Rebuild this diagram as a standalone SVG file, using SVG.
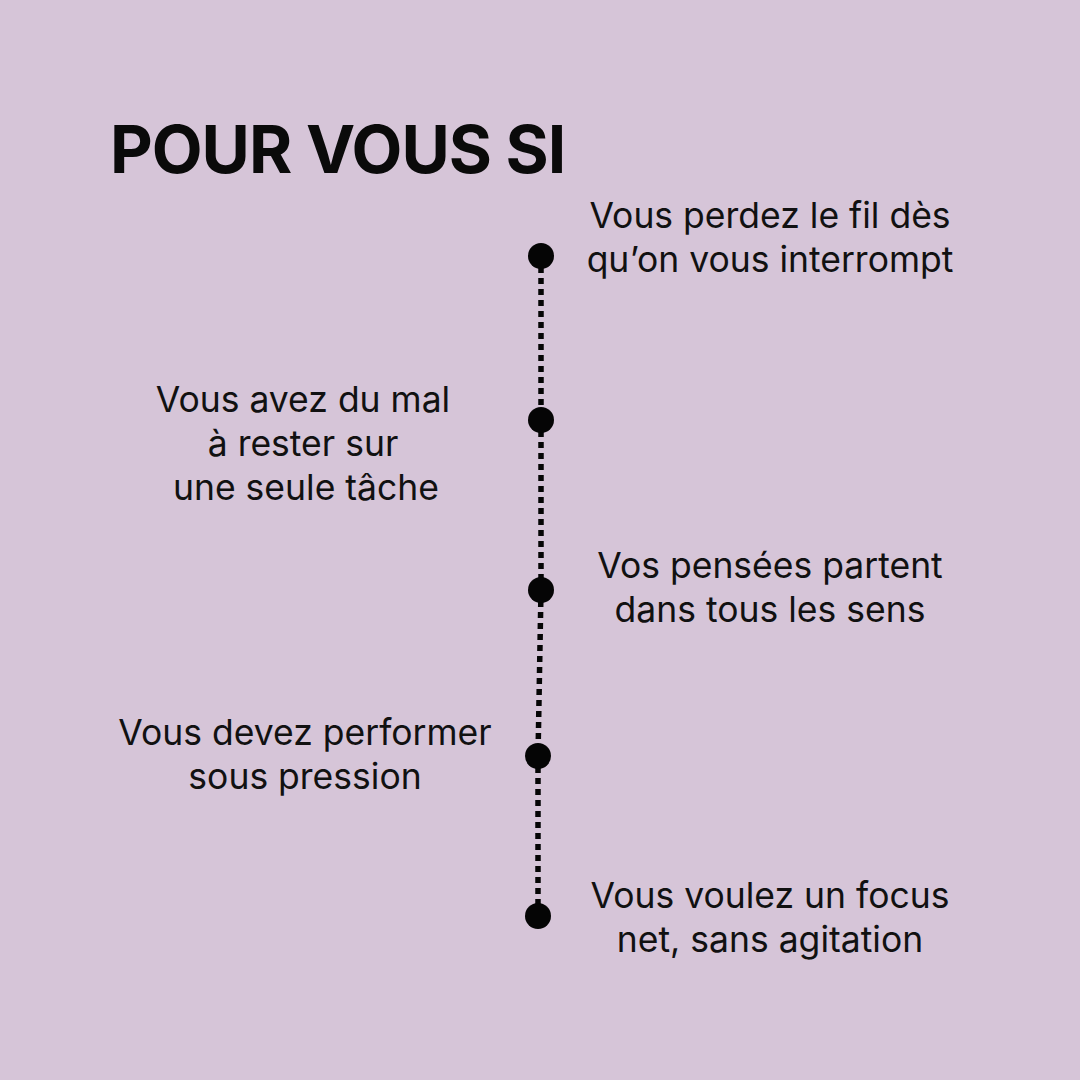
<svg xmlns="http://www.w3.org/2000/svg" width="1080" height="1080" viewBox="0 0 1080 1080">
<style>
.t{font-family:Inter,"Noto Sans",sans-serif;font-size:35.5px;fill:#111;text-anchor:middle}
.h{font-family:Inter,"Noto Sans",sans-serif;font-size:66px;font-weight:700;fill:#0a0a0a;letter-spacing:-1px}
.dot{fill:#050505}
</style>
<rect width="1080" height="1080" fill="#d6c5d8"/>
<text class="h" x="110" y="173">POUR VOUS SI</text>
<g id="connectors" stroke="#050505" stroke-width="5.5" stroke-dasharray="6 5">
<line x1="541" y1="256" x2="541" y2="420"/>
<line x1="541" y1="420" x2="541" y2="590"/>
<line x1="541" y1="590" x2="538" y2="756"/>
<line x1="538" y1="756" x2="538" y2="916"/>
</g>
<g id="n1"><circle class="dot" cx="541" cy="256" r="13"/><text class="t" x="770" y="228">Vous perdez le fil dès</text><text class="t" x="770" y="272">qu’on vous interrompt</text></g>
<g id="n2"><circle class="dot" cx="541" cy="420" r="13"/><text class="t" x="303" y="412">Vous avez du mal</text><text class="t" x="303" y="456">à rester sur</text><text class="t" x="306" y="500">une seule tâche</text></g>
<g id="n3"><circle class="dot" cx="541" cy="590" r="13"/><text class="t" x="770" y="578">Vos pensées partent</text><text class="t" x="770" y="622">dans tous les sens</text></g>
<g id="n4"><circle class="dot" cx="538" cy="756" r="13"/><text class="t" x="305" y="745">Vous devez performer</text><text class="t" x="305" y="789">sous pression</text></g>
<g id="n5"><circle class="dot" cx="538" cy="916" r="13"/><text class="t" x="770" y="908">Vous voulez un focus</text><text class="t" x="770" y="952">net, sans agitation</text></g>
</svg>
